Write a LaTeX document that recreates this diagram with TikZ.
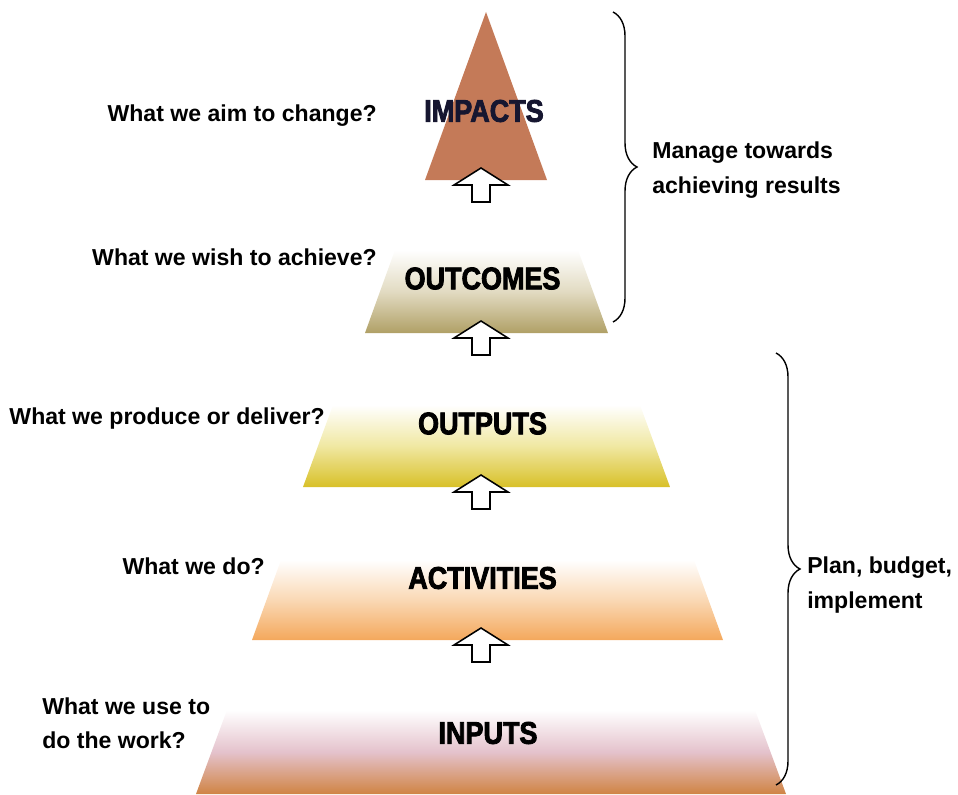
\documentclass[tikz,border=0pt]{standalone}
\usepackage{fontspec}
\setmainfont{Liberation Sans}
\newfontfamily\tierfont{Liberation Sans}[FakeStretch=0.86,FakeBold=2.6]
\usepackage{tikz}
\usetikzlibrary{decorations.pathreplacing}

\definecolor{impactred}{RGB}{196,122,88}
\definecolor{impactink}{RGB}{22,22,48}
\definecolor{outcomemid}{RGB}{226,219,194}
\definecolor{outcomebot}{RGB}{176,160,102}
\definecolor{outputmid}{RGB}{240,232,162}
\definecolor{outputbot}{RGB}{216,192,40}
\definecolor{activitymid}{RGB}{250,216,180}
\definecolor{activitybot}{RGB}{244,168,92}
\definecolor{inputmid}{RGB}{228,194,204}
\definecolor{inputbot}{RGB}{208,132,68}

\tikzset{
  ask/.style={font=\bfseries\fontsize{16.4}{24.5}\selectfont, inner sep=0pt},
  tier/.style={font=\tierfont\bfseries\fontsize{22.3}{26}\selectfont, inner sep=0pt},
  layer/.style 2 args={top color=white, bottom color=#2, middle color=#1},
  curly/.style={decorate, decoration={brace, amplitude=0.6cm}, line width=1pt},
  liftarrow/.pic={
    \draw[fill=white, line width=1.1pt, line join=miter]
      (0,0) -- (27,17) -- (9,17) -- (9,34) -- (-9,34) -- (-9,17) -- (-27,17) -- cycle;
  }
}

\begin{document}
\begin{tikzpicture}[x=0.025cm, y=-0.025cm]
  \useasboundingbox (0,0) rectangle (958,794);

  % pyramid, top to bottom
  \fill[impactred] (486,12) -- (547,180) -- (425,180) -- cycle;
  \shade[layer={outcomemid}{outcomebot}] (395,250) -- (578,250) -- (608,333) -- (365,333) -- cycle;
  \shade[layer={outputmid}{outputbot}] (333,405) -- (640,405) -- (670,487) -- (303,487) -- cycle;
  \shade[layer={activitymid}{activitybot}] (281,560) -- (694,560) -- (723,640) -- (252,640) -- cycle;
  \shade[layer={inputmid}{inputbot}] (227,710) -- (755,710) -- (786,794) -- (196,794) -- cycle;

  % arrows between the layers
  \foreach \y in {168,321,475,628}
    \pic at (481,\y) {liftarrow};

  % layer names
  \node[tier, text=impactink] (impacts) at (484,111) {IMPACTS};
  \node[tier] (outcomes) at (482.5,278.5) {OUTCOMES};
  \node[tier] (outputs) at (482.5,423.5) {OUTPUTS};
  \node[tier] (activities) at (482.5,578) {ACTIVITIES};
  \node[tier] (inputs) at (488,733) {INPUTS};

  % questions on the left
  \node[ask, anchor=base east] (q-impacts) at (377,122) {What we aim to change?};
  \node[ask, anchor=base east] (q-outcomes) at (377,265) {What we wish to achieve?};
  \node[ask, anchor=base east] (q-outputs) at (325,424) {What we produce or deliver?};
  \node[ask, anchor=base east] (q-activities) at (265,574) {What we do?};
  \node[ask, anchor=north west, align=left] (q-inputs) at (42,697) {What we use to\\do the work?};

  % braces on the right
  \draw[curly] (613,12) -- (613,322);
  \node[ask, anchor=north west, align=left] (manage) at (652,142) {Manage towards\\achieving results};
  \draw[curly] (776,353) -- (776,785);
  \node[ask, anchor=north west, align=left] (plan) at (807,557) {Plan, budget,\\implement};
\end{tikzpicture}
\end{document}
